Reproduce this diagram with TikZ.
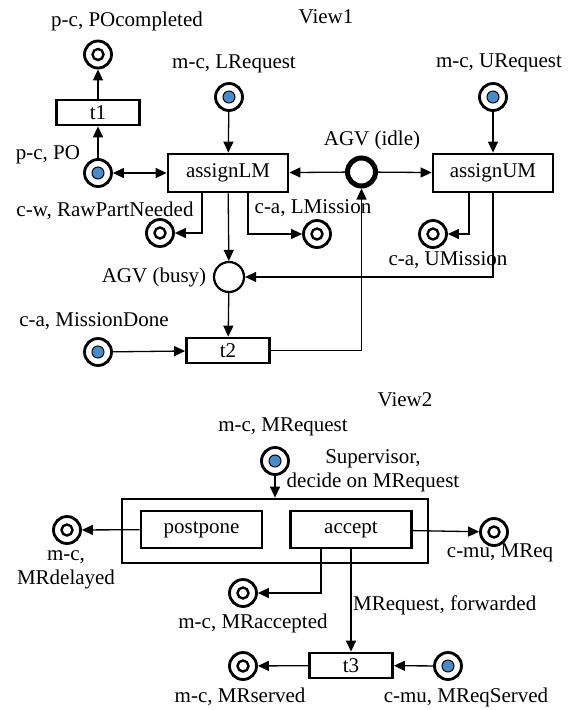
\documentclass[tikz,border=0pt]{standalone}
\usepackage{fontspec}
\setmainfont{Liberation Serif}
\usetikzlibrary{arrows.meta, positioning}
\definecolor{tokenblue}{HTML}{4A8AC8}
\tikzset{
    every node/.style={font=\fontsize{21}{24}\selectfont},
    place/.style={circle, draw=black, line width=2.8pt, minimum size=27pt, inner sep=0pt,
        path picture={\draw[line width=2.4pt] (path picture bounding box.center) circle (5.5pt);}},
    tokenplace/.style={circle, draw=black, line width=2.8pt, minimum size=27pt, inner sep=0pt,
        path picture={\filldraw[fill=tokenblue, draw=black, line width=1pt] (path picture bounding box.center) circle (6pt);}},
    agv/.style={circle, draw=black, minimum size=28pt, inner sep=0pt},
    trans/.style={rectangle, draw=black, line width=2.8pt, minimum width=83pt, minimum height=25pt, inner sep=0pt},
    assign/.style={trans, minimum width=120pt, minimum height=38pt},
    arrow/.style={-{Triangle[length=11pt, width=10pt]}, line width=1.3pt},
    plabel/.style={inner sep=0pt}
}

\begin{document}
\begin{tikzpicture}[x=1pt, y=-1pt]
\useasboundingbox (0,0) rectangle (571,710);

% View1
\node (view1) [plabel] at (326,17) {View1};

\node (pocompleted) [place] at (98,54.5) {};
\node (t1) [trans] at (98,112.5) {t1};
\node (po) [tokenplace] at (98,173) {};
\node (assignLM) [assign] at (228,173) {assignLM};
\node (lrequest) [tokenplace] at (229,97) {};
\node (idle) [agv, line width=5pt] at (361.5,172) {};
\node (assignUM) [assign] at (493,173) {assignUM};
\node (urequest) [tokenplace] at (493,97) {};
\node (rawpart) [place] at (160,233) {};
\node (lmission) [place] at (317,234) {};
\node (umission) [place] at (433,234) {};
\node (busy) [agv, line width=2.2pt, minimum size=30pt] at (229,277) {};
\node (missiondone) [tokenplace] at (98,352) {};
\node (t2) [trans] at (228,350.5) {t2};

% Arrows
\draw [arrow] (po) -- (t1);
\draw [arrow] (t1) -- (pocompleted);
\draw [arrow, {Triangle[length=11pt, width=10pt]}-{Triangle[length=11pt, width=10pt]}] (po) -- (assignLM);
\draw [arrow] (lrequest) -- (assignLM);
\draw [arrow] (urequest) -- (assignUM);
\draw [arrow] (idle) -- (assignLM);
\draw [arrow] (idle) -- (assignUM);
\draw [arrow] ([xshift=-26pt]assignLM.south) |- (rawpart);
\draw [arrow] (assignLM) -- (busy);
\draw [arrow] ([xshift=20pt]assignLM.south) |- (lmission);
\draw [arrow] ([xshift=-24pt]assignUM.south) |- (umission);
\draw [arrow] (assignUM.south) |- (busy);
\draw [arrow] (busy) -- (t2);
\draw [arrow] (missiondone) -- (t2);
\draw [arrow] (t2) -| (idle);

% Labels
\node [plabel] at (127,21) {p-c, POcompleted};
\node [plabel] at (234,64) {m-c, LRequest};
\node [plabel] at (499,63) {m-c, URequest};
\node [plabel] at (48,155) {p-c, PO};
\node [plabel] at (372,140) {AGV (idle)};
\node [plabel] at (105,211) {c-w, RawPartNeeded};
\node [plabel] at (313,208) {c-a, LMission};
\node [plabel] at (154,277) {AGV (busy)};
\node [plabel] at (448,260) {c-a, UMission};
\node [plabel] at (94,321) {c-a, MissionDone};

% View2
\node (view2) [plabel] at (405,400) {View2};

\node (mrequest) [tokenplace] at (275,461) {};
\node (supervisor) [rectangle, draw=black, line width=2.8pt, minimum width=306pt, minimum height=64pt] at (275,531) {};
\node (postpone) [assign, minimum width=121pt, minimum height=37pt] at (201.5,529.5) {postpone};
\node (accept) [assign, minimum width=121pt, minimum height=37pt] at (351,529.5) {accept};
\node (mrdelayed) [place] at (67,530) {};
\node (mreq) [place] at (494,532) {};
\node (mraccepted) [place] at (243,593) {};
\node (t3) [trans] at (351,665.5) {t3};
\node (mrserved) [place] at (243,666) {};
\node (mreqserved) [tokenplace] at (448,666) {};

\draw [arrow] (mrequest) -- (supervisor);
\draw [arrow] (postpone) -- (mrdelayed);
\draw [arrow] (accept) -- (mreq);
\draw [arrow] ([xshift=-30pt]accept.south) |- (mraccepted);
\draw [arrow] (accept) -- (t3);
\draw [arrow] (t3) -- (mrserved);
\draw [arrow] (mreqserved) -- (t3);

\node [plabel] at (283,427) {m-c, MRequest};
\node [plabel, align=center] at (373,471) {Supervisor,\\decide on MRequest};
\node [plabel, align=center] at (66,570) {m-c,\\MRdelayed};
\node [plabel] at (500,553) {c-mu, MReq};
\node [plabel] at (253,623) {m-c, MRaccepted};
\node [plabel, anchor=west] at (353,605) {MRequest, forwarded};
\node [plabel] at (240,697) {m-c, MRserved};
\node [plabel] at (466,697) {c-mu, MReqServed};

\end{tikzpicture}
\end{document}
